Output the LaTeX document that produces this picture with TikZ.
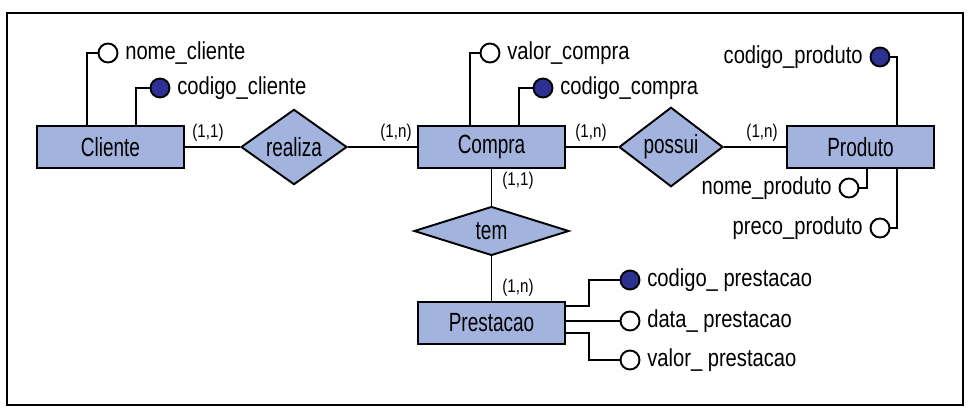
\documentclass[tikz,border=0pt]{standalone}
\usepackage{fontspec}
\setmainfont{Liberation Sans}
\newfontfamily\entfont{Liberation Sans}[FakeStretch=0.72]
\newfontfamily\attfont{Liberation Sans}[FakeStretch=0.82]
\usetikzlibrary{shapes.geometric}
\definecolor{erfill}{RGB}{162,180,222}
\definecolor{keyfill}{RGB}{44,48,145}

\begin{document}
\begin{tikzpicture}[x=0.02cm,y=-0.02cm,line width=1.1pt,
  entity/.style={draw,fill=erfill,minimum width=2.94cm,minimum height=0.84cm,inner sep=0pt,font=\entfont\fontsize{15}{18}\selectfont},
  relation/.style={diamond,draw,fill=erfill,inner sep=0pt,font=\entfont\fontsize{15}{18}\selectfont},
  attr/.style={circle,draw,fill=white,minimum size=0.38cm,inner sep=0pt},
  keyattr/.style={attr,fill=keyfill},
  attrtext/.style={font=\attfont\fontsize{14}{17}\selectfont},
  card/.style={font=\attfont\fontsize{10.5}{12}\selectfont}]

\useasboundingbox (0,0) rectangle (969,415);
\draw[line width=1.2pt] (7,13) rectangle (963,405);

% entidades
\node[entity] (cli) at (110.5,147) {Cliente};
\node[entity] (com) at (491.5,147) {Compra};
\node[entity] (pro) at (860.5,147) {Produto};
\node[entity] (pre) at (491.5,323) {Prestacao};

% relacionamentos
\node[relation,minimum width=2.12cm,minimum height=0.94cm] (rea) at (294,147) {realiza};
\node[relation,minimum width=2.08cm,minimum height=0.94cm] (pos) at (671,147) {possui};
\node[relation,minimum width=3.1cm,minimum height=0.88cm] (tem) at (491.5,231) {tem};

\draw (cli) -- (rea);
\draw (rea) -- (com);
\draw (com) -- (pos);
\draw (pos) -- (pro);
\draw (com) -- (tem);
\draw (tem) -- (pre);

\node[card] (k1) at (208,133) {(1,1)};
\node[card] (k2) at (396,133) {(1,n)};
\node[card] (k3) at (591,133) {(1,n)};
\node[card] (k4) at (762,133) {(1,n)};
\node[card] (k5) at (518,181) {(1,1)};
\node[card] (k6) at (518,288) {(1,n)};

% atributos
\node[attr] (nomecli) at (108,53) {};
\node[attrtext,anchor=west] (tnomecli) at (nomecli.east) {nome\_cliente};
\node[keyattr] (codcli) at (160,88) {};
\node[attrtext,anchor=west] (tcodcli) at (codcli.east) {codigo\_cliente};

\node[attr] (valcom) at (490,53) {};
\node[attrtext,anchor=west] (tvalcom) at (valcom.east) {valor\_compra};
\node[keyattr] (codcom) at (543,88) {};
\node[attrtext,anchor=west] (tcodcom) at (codcom.east) {codigo\_compra};

\node[keyattr] (codpro) at (880,57) {};
\node[attrtext,anchor=east] (tcodpro) at (codpro.west) {codigo\_produto};
\node[attr] (nompro) at (849,188) {};
\node[attrtext,anchor=east] (tnompro) at (nompro.west) {nome\_produto};
\node[attr] (prepro) at (880,228) {};
\node[attrtext,anchor=east] (tprepro) at (prepro.west) {preco\_produto};

\node[keyattr] (codpre) at (630,280) {};
\node[attrtext,anchor=west] (tcodpre) at (codpre.east) {codigo\_ prestacao};
\node[attr] (datpre) at (630,321) {};
\node[attrtext,anchor=west] (tdatpre) at (datpre.east) {data\_ prestacao};
\node[attr] (valpre) at (630,360) {};
\node[attrtext,anchor=west] (tvalpre) at (valpre.east) {valor\_ prestacao};

\coordinate (a1) at (87,126);
\coordinate (a2) at (136,126);
\coordinate (a3) at (470,126);
\coordinate (a4) at (519,126);
\coordinate (a5) at (897,126);
\coordinate (a6) at (867,168);
\coordinate (a7) at (897,168);
\coordinate (a8) at (589,306);
\coordinate (a9) at (589,333);

\draw (nomecli.west) -| (a1);
\draw (codcli.west) -| (a2);
\draw (valcom.west) -| (a3);
\draw (codcom.west) -| (a4);
\draw (codpro.east) -| (a5);
\draw (nompro.east) -| (a6);
\draw (prepro.east) -| (a7);
\draw (codpre.west) -| (a8) -- (a8 -| pre.east);
\draw (datpre.west) -- (datpre.west -| pre.east);
\draw (valpre.west) -| (a9) -- (a9 -| pre.east);
\end{tikzpicture}
\end{document}
